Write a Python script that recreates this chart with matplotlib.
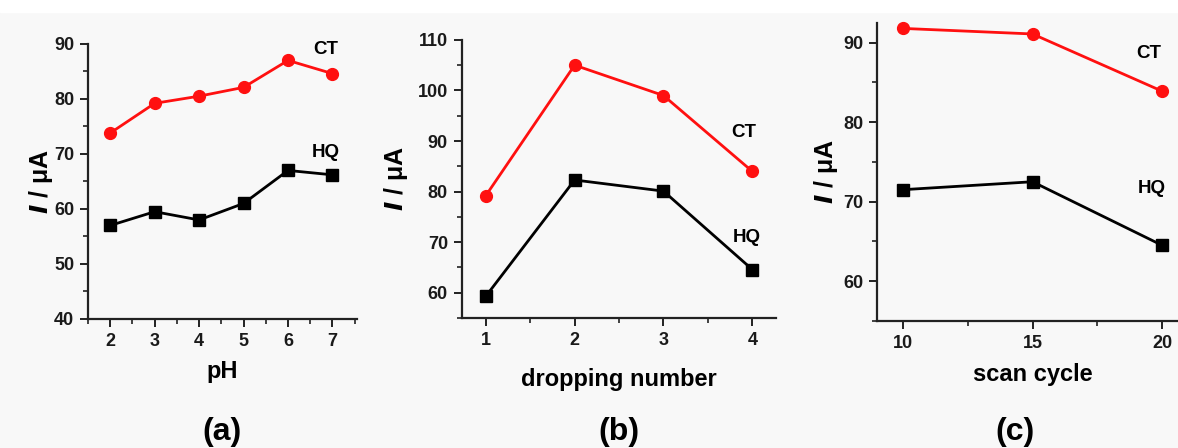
import matplotlib
matplotlib.use("Agg")
import matplotlib.pyplot as plt
from matplotlib.ticker import MultipleLocator
from matplotlib.patches import Rectangle

# -------------------------------------------------
# Data
# -------------------------------------------------
ph = [2, 3, 4, 5, 6, 7]
ct_ph = [73.8, 79.2, 80.5, 82.1, 87.0, 84.6]
hq_ph = [57.0, 59.5, 58.0, 61.0, 67.0, 66.2]

drops = [1, 2, 3, 4]
ct_drop = [79.2, 105.0, 99.0, 84.0]
hq_drop = [59.3, 82.3, 80.1, 64.6]

cycles = [10, 15, 20]
ct_cyc = [91.8, 91.1, 83.9]
hq_cyc = [71.5, 72.5, 64.5]

xlabels = ["pH", "dropping number", "scan cycle"]
panel_tags = ["(a)", "(b)", "(c)"]

NARROW = ["Liberation Sans Narrow", "Liberation Sans", "DejaVu Sans"]

plt.rcParams["font.family"] = ["Liberation Sans", "DejaVu Sans"]
plt.rcParams["font.weight"] = "bold"

fig = plt.figure(figsize=(11.78, 4.48), dpi=100, facecolor="#f8f8f8")
# white strip on top
fig.patches.append(Rectangle((0, 0.973), 1, 0.03, transform=fig.transFigure,
                             color="white", zorder=0))

positions = [
    [0.0747, 0.288, 0.2283, 0.614],
    [0.392, 0.290, 0.267, 0.621],
    [0.7445, 0.284, 0.264, 0.665],
]
settings = [
    dict(x=ph, ct=ct_ph, hq=hq_ph, xlim=(1.5, 7.55), ylim=(40, 90),
         xmaj=1, xmin=0.5, ymaj=10, ymin=5, ct_lab=(6.84, 88.9), hq_lab=(6.84, 70.2),
         ylab_x=-0.175, xlab_y=-0.19, tag_x=0.5, tag_y=-0.41),
    dict(x=drops, ct=ct_drop, hq=hq_drop, xlim=(0.73, 4.27), ylim=(55, 110),
         xmaj=1, xmin=0.5, ymaj=10, ymin=5, ct_lab=(3.9, 91.6), hq_lab=(3.94, 70.9),
         ylab_x=-0.21, xlab_y=-0.22, tag_x=0.5, tag_y=-0.41),
    dict(x=cycles, ct=ct_cyc, hq=hq_cyc, xlim=(9, 21), ylim=(55, 92.5),
         xmaj=5, xmin=2.5, ymaj=10, ymin=5, ct_lab=(19.5, 88.7), hq_lab=(19.6, 71.6),
         ylab_x=-0.165, xlab_y=-0.18, tag_x=0.445, tag_y=-0.375),
]

for i, s in enumerate(settings):
    ax = fig.add_axes(positions[i])
    ax.set_facecolor("none")
    ax.plot(s["x"], s["ct"], color="#ff1010", lw=2.0, marker="o", ms=8.5, clip_on=False)
    ax.plot(s["x"], s["hq"], color="black", lw=2.0, marker="s", ms=8, clip_on=False)
    ax.set_xlim(*s["xlim"])
    ax.set_ylim(*s["ylim"])
    ax.xaxis.set_major_locator(MultipleLocator(s["xmaj"]))
    ax.xaxis.set_minor_locator(MultipleLocator(s["xmin"]))
    ax.yaxis.set_major_locator(MultipleLocator(s["ymaj"]))
    ax.yaxis.set_minor_locator(MultipleLocator(s["ymin"]))
    for side in ["top", "right"]:
        ax.spines[side].set_visible(False)
    for side in ["left", "bottom"]:
        ax.spines[side].set_linewidth(1.6)
        ax.spines[side].set_color("#222222")
    ax.tick_params(which="major", length=6, width=1.4, labelsize=13, color="#222222",
                   labelcolor="#1a1a1a", pad=4)
    ax.tick_params(which="minor", length=3.5, width=1.2, color="#222222")
    for lab in ax.get_xticklabels() + ax.get_yticklabels():
        lab.set_fontweight("bold")
        lab.set_family(NARROW)
    ax.text(*s["ct_lab"], "CT", ha="center", va="center", fontsize=13.5,
            fontweight="bold", family=NARROW)
    ax.text(*s["hq_lab"], "HQ", ha="center", va="center", fontsize=13.5,
            fontweight="bold", family=NARROW)
    ax.text(s["ylab_x"], 0.5, r"$\boldsymbol{I}$ / μA", transform=ax.transAxes,
            rotation=90, ha="center", va="center", fontsize=18, fontweight="bold")
    ax.text(0.5, s["xlab_y"], xlabels[i], transform=ax.transAxes,
            ha="center", va="center", fontsize=17, fontweight="bold")
    ax.text(s["tag_x"], s["tag_y"], panel_tags[i], transform=ax.transAxes,
            ha="center", va="center", fontsize=23, fontweight="bold")

fig.savefig("out.png", dpi=100, facecolor=fig.get_facecolor())
